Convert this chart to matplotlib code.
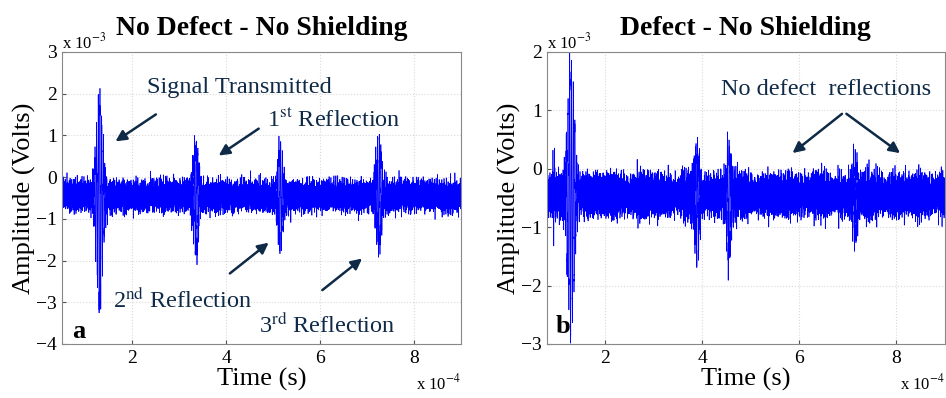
import numpy as np
from matplotlib import pyplot as plt

# time in units of 1e-4 s, amplitude in units of 1e-3 V
baseline = -0.45

left_burst_t = [1.30, 3.35, 5.15, 7.25]
left_burst_hi = [2.0, 1.0, 0.9, 1.1]
left_burst_lo = [-3.3, -2.05, -1.85, -1.9]
left_burst_w = [0.07, 0.06, 0.06, 0.06]

right_burst_t = [0.95, 1.30, 3.90, 4.55, 7.15]
right_burst_hi = [0.4, 2.0, 0.55, 0.55, 0.4]
right_burst_lo = [-1.2, -2.9, -1.7, -1.75, -1.4]
right_burst_w = [0.02, 0.07, 0.05, 0.05, 0.05]

noise_freqs = [97.3, 151.7, 211.9, 263.1, 331.7, 389.3, 457.1, 503.9, 587.3, 641.9]
noise_amps = [0.09, 0.08, 0.1, 0.07, 0.09, 0.08, 0.1, 0.07, 0.08, 0.07]
noise_phase = [0.3, 1.9, 4.1, 2.7, 5.3, 0.9, 3.6, 1.2, 4.8, 2.2]

carrier_f = 28.0
text_col = '#0f2a47'


def senal(t, centros, hi, lo, anchos):
    y = np.full_like(t, baseline)
    for f, a, p in zip(noise_freqs, noise_amps, noise_phase):
        y += a * np.sin(2 * np.pi * f * t + p)
    for c, h, l, w in zip(centros, hi, lo, anchos):
        env = np.exp(-0.5 * ((t - c) / w) ** 2)
        osc = np.sin(2 * np.pi * carrier_f * (t - c))
        amp = np.where(osc > 0, h - baseline - 0.2, baseline - l - 0.2)
        y += env * amp * osc
    return y


def estilo(ax, xlim, ylim, yticks):
    ax.set_xlim(xlim)
    ax.set_ylim(ylim)
    ax.set_xticks([2, 4, 6, 8])
    ax.set_yticks(yticks)
    ax.grid(True, color='#d9d9d9', linestyle=':', linewidth=0.8)
    ax.tick_params(direction='in', labelsize=14, length=3, color='#555555')
    ax.tick_params(axis='x', pad=4)
    for s in ax.spines.values():
        s.set_color('#888888')
        s.set_linewidth(0.8)
    ax.set_xlabel('Time (s)', fontsize=19, labelpad=1)
    ax.set_ylabel('Amplitude (Volts)', fontsize=19, labelpad=0)
    ax.text(0.0, 1.0, r'x 10$^{-3}$', transform=ax.transAxes, fontsize=12,
            ha='left', va='bottom')
    ax.text(1.0, -0.135, r'x 10$^{-4}$', transform=ax.transAxes, fontsize=12,
            ha='right', va='center')


plt.rcParams['font.family'] = ['Liberation Serif', 'DejaVu Serif']
plt.rcParams['mathtext.fontset'] = 'stix'

fig = plt.figure(figsize=(9.46, 3.98), dpi=100)
ax1 = fig.add_axes([0.0655, 0.1357, 0.4218, 0.7337])
ax2 = fig.add_axes([0.578, 0.1357, 0.4205, 0.7337])

t1 = np.linspace(0.5, 9.0, 8000)
ax1.plot(t1, senal(t1, left_burst_t, left_burst_hi, left_burst_lo, left_burst_w),
         color='#0000ff', lw=0.5)
estilo(ax1, (0.5, 9.0), (-4, 3), [-4, -3, -2, -1, 0, 1, 2, 3])
ax1.set_title('No Defect - No Shielding', fontsize=20, fontweight='bold', pad=12)

t2 = np.linspace(0.8, 9.0, 8000)
ax2.plot(t2, senal(t2, right_burst_t, right_burst_hi, right_burst_lo, right_burst_w),
         color='#0000ff', lw=0.5)
estilo(ax2, (0.8, 9.0), (-3, 2), [-3, -2, -1, 0, 1, 2])
ax2.set_title('Defect - No Shielding', fontsize=20, fontweight='bold', pad=12)

flecha = dict(arrowstyle='-|>', color=text_col, lw=1.8, mutation_scale=16)

ax1.text(4.28, 2.16, 'Signal Transmitted', color=text_col, fontsize=17.5, ha='center', va='center')
ax1.annotate('', xy=(1.59, 0.82), xytext=(2.55, 1.54), arrowprops=flecha)
ax1.text(6.28, 1.37, r'1$^{\rm st}$ Reflection', color=text_col, fontsize=17.5, ha='center', va='center')
ax1.annotate('', xy=(3.79, 0.48), xytext=(4.74, 1.2), arrowprops=flecha)
ax1.text(3.07, -2.95, r'2$^{\rm nd}$ Reflection', color=text_col, fontsize=17.5, ha='center', va='center')
ax1.annotate('', xy=(4.95, -1.53), xytext=(4.03, -2.35), arrowprops=flecha)
ax1.text(6.15, -3.55, r'3$^{\rm rd}$ Reflection', color=text_col, fontsize=17.5, ha='center', va='center')
ax1.annotate('', xy=(6.94, -1.91), xytext=(6.0, -2.75), arrowprops=flecha)
ax1.text(0.72, -3.7, 'a', fontsize=19, fontweight='bold', va='center')

ax2.text(6.56, 1.35, 'No defect  reflections', color=text_col, fontsize=17.5, ha='center', va='center')
ax2.annotate('', xy=(5.82, 0.24), xytext=(6.93, 0.97), arrowprops=flecha)
ax2.annotate('', xy=(8.13, 0.24), xytext=(6.93, 0.97), arrowprops=flecha)
ax2.text(0.98, -2.7, 'b', fontsize=19, fontweight='bold', va='center')

fig.savefig('out.png', dpi=100)
